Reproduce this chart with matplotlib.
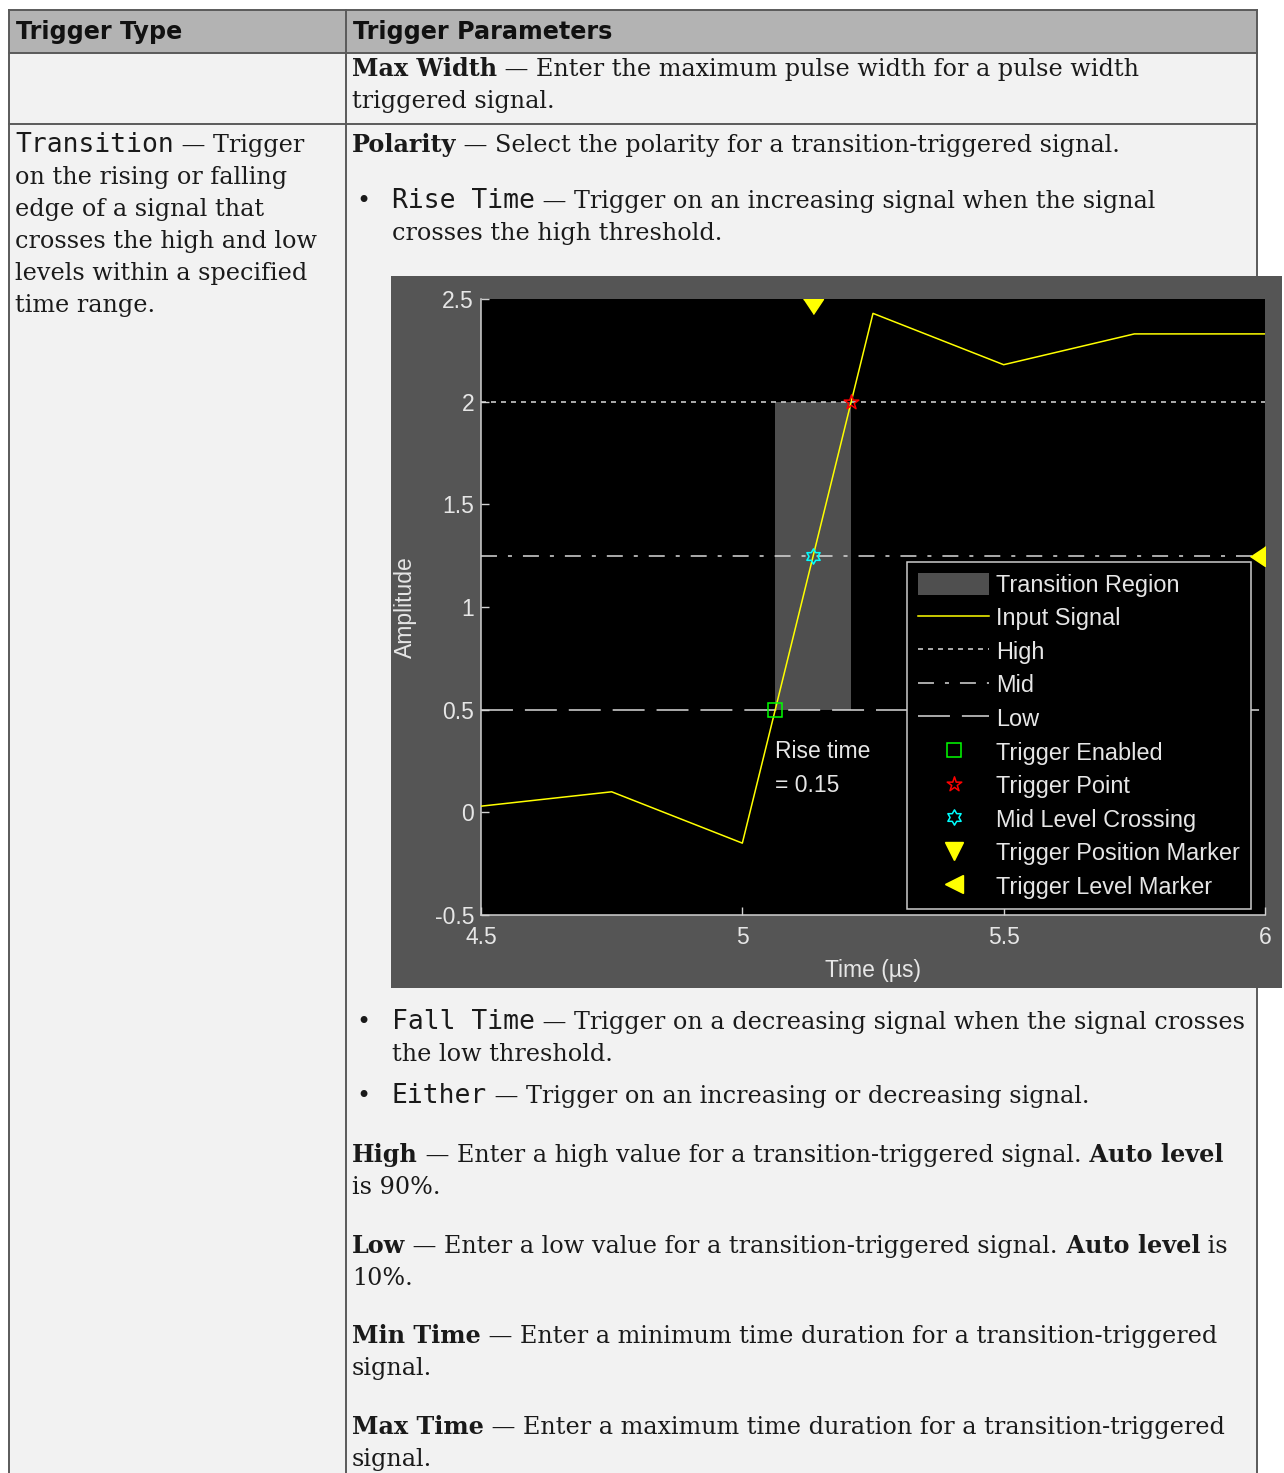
import matplotlib
matplotlib.use("Agg")
import matplotlib.pyplot as plt
from matplotlib.lines import Line2D
from matplotlib.patches import Rectangle
from matplotlib.path import Path

plt.rcParams['lines.scale_dashes'] = False

# ---------------- data ----------------
time_us = [4.5, 4.75, 5.0, 5.25, 5.5, 5.75, 6.0]
amplitude = [0.03, 0.10, -0.15, 2.43, 2.18, 2.33, 2.33]

high_level = 2.0
mid_level = 1.25
low_level = 0.5

trigger_enabled = (5.063, 0.5)
trigger_point = (5.208, 2.0)
mid_crossing = (5.136, 1.25)
trigger_position = (5.136, 2.5)
trigger_level = (6.0, 1.25)
rise_time_note = "Rise time\n= 0.15"

x_ticks = [4.5, 5, 5.5, 6]
x_ticklabels = ["4.5", "5", "5.5", "6"]
y_ticks = [-0.5, 0, 0.5, 1, 1.5, 2, 2.5]
y_ticklabels = ["-0.5", "0", "0.5", "1", "1.5", "2", "2.5"]

legend_labels = ["Transition Region", "Input Signal", "High", "Mid", "Low",
                 "Trigger Enabled", "Trigger Point", "Mid Level Crossing",
                 "Trigger Position Marker", "Trigger Level Marker"]

header_cells = ["Trigger Type", "Trigger Parameters"]

max_width_lines = [
    [("Max Width", "bold"), (" — Enter the maximum pulse width for a pulse width", "serif")],
    [("triggered signal.", "serif")],
]
transition_lines = [
    [("Transition", "mono"), (" — Trigger", "serif")],
    [("on the rising or falling", "serif")],
    [("edge of a signal that", "serif")],
    [("crosses the high and low", "serif")],
    [("levels within a specified", "serif")],
    [("time range.", "serif")],
]
polarity_lines = [
    [("Polarity", "bold"), (" — Select the polarity for a transition-triggered signal.", "serif")],
]
rise_lines = [
    [("Rise Time", "mono"), (" — Trigger on an increasing signal when the signal", "serif")],
    [("crosses the high threshold.", "serif")],
]
fall_lines = [
    [("Fall Time", "mono"), (" — Trigger on a decreasing signal when the signal crosses", "serif")],
    [("the low threshold.", "serif")],
]
either_lines = [
    [("Either", "mono"), (" — Trigger on an increasing or decreasing signal.", "serif")],
]
high_lines = [
    [("High", "bold"), (" — Enter a high value for a transition-triggered signal.", "serif"),
     (" Auto level", "bold")],
    [("is 90%.", "serif")],
]
low_lines = [
    [("Low", "bold"), (" — Enter a low value for a transition-triggered signal.", "serif"),
     (" Auto level", "bold"), (" is", "serif")],
    [("10%.", "serif")],
]
min_time_lines = [
    [("Min Time", "bold"), (" — Enter a minimum time duration for a transition-triggered", "serif")],
    [("signal.", "serif")],
]
max_time_lines = [
    [("Max Time", "bold"), (" — Enter a maximum time duration for a transition-triggered", "serif")],
    [("signal.", "serif")],
]

# ---------------- styles ----------------
W, H = 1284, 1473
STYLE = {
    "serif": dict(family=["DejaVu Serif", "DejaVu Sans"], size=17.2),
    "bold": dict(family=["DejaVu Serif", "DejaVu Sans"], size=17.2, weight="bold"),
    "mono": dict(family=["DejaVu Sans Mono"], size=19),
    "head": dict(family=["DejaVu Sans"], size=17.2, weight="bold"),
}
TEXT = "#1a1a1a"
CHART_TXT = "#e6e6e6"
CHART_FONT = "Liberation Sans"
CFS = 16.5
LEG_FS = 16.9
LINE_STEP = 32

fig = plt.figure(figsize=(W / 100, H / 100), dpi=100)
fig.patch.set_facecolor("white")
r = fig.canvas.get_renderer()

page = fig.add_axes([0, 0, 1, 1])
page.set_xlim(0, W)
page.set_ylim(H, 0)
page.axis("off")


def put_line(x, y, runs):
    for s, st in runs:
        t = page.text(x, y, s, ha="left", va="baseline", color=TEXT, zorder=4, **STYLE[st])
        x += t.get_window_extent(r).width


def put_block(x, y0, lines, bullet=False):
    if bullet:
        page.text(356, y0, "•", ha="left", va="baseline", color=TEXT, zorder=4, **STYLE["serif"])
    for i, runs in enumerate(lines):
        put_line(x, y0 + i * LINE_STEP, runs)


# table cells and rules
left, mid_x, right = 9, 346, 1257
page.add_patch(Rectangle((left, 10), right - left, 43, fc="#b3b3b3", ec="none", zorder=1))
page.add_patch(Rectangle((left, 53), right - left, H - 53, fc="#f2f2f2", ec="none", zorder=1))
rule = dict(color="#5a5a5a", lw=1.4, zorder=2)
for xx in (left, mid_x, right):
    page.plot([xx, xx], [10, H], **rule)
for yy in (10, 53, 124):
    page.plot([left, right], [yy, yy], **rule)

page.text(16, 39, header_cells[0], ha="left", va="baseline", color="#111111", **STYLE["head"])
page.text(353, 39, header_cells[1], ha="left", va="baseline", color="#111111", **STYLE["head"])

put_block(352, 76, max_width_lines)
put_block(15, 152, transition_lines)
put_block(352, 152, polarity_lines)
put_block(392, 208, rise_lines, bullet=True)
put_block(392, 1029, fall_lines, bullet=True)
put_block(392, 1103, either_lines, bullet=True)
put_block(352, 1162, high_lines)
put_block(352, 1253, low_lines)
put_block(352, 1343, min_time_lines)
put_block(352, 1434, max_time_lines)

# grey figure panel behind the scope axes
page.add_patch(Rectangle((391, 276), 891, 712, fc="#555555", ec="none", zorder=5))

# ---------------- the scope chart ----------------
ax = fig.add_axes([481 / W, 1 - 915 / H, 784 / W, 616 / H])
ax.set_zorder(3)
ax.set_facecolor("black")
ax.set_xlim(4.5, 6)
ax.set_ylim(-0.5, 2.5)

region = ax.fill_between([trigger_enabled[0], trigger_point[0]], low_level, high_level,
                         color="#4f4f4f", lw=0, zorder=1)
thr = dict(color="#d9d9d9", lw=1.1, zorder=2)
high_ln = ax.axhline(high_level, ls=(0, (3.6, 3.6)), **thr)
mid_ln = ax.axhline(mid_level, ls=(0, (11.5, 7.9, 2.9, 7.9)), **thr)
low_ln = ax.axhline(low_level, ls=(0, (23, 8.6)), **thr)
sig_ln, = ax.plot(time_us, amplitude, color="#ffff00", lw=1.1, zorder=3)

en_mk, = ax.plot(*trigger_enabled, ls="none", marker="s", ms=10.5, mfc="none",
                 mec="#00ff00", mew=1.1, zorder=5)
pentagram = Path.unit_regular_star(5, 0.382)
hexagram = Path.unit_regular_star(6, 0.577)
pt_mk, = ax.plot(*trigger_point, ls="none", marker=pentagram, ms=11, mfc="none",
                 mec="#ff0000", mew=1.1, zorder=5)
mid_mk, = ax.plot(*mid_crossing, ls="none", marker=hexagram, ms=11, mfc="none",
                  mec="#00ffff", mew=1.1, zorder=5)

# scope markers sit flat against the axes edge
tri_down = [(-1, 0), (1, 0), (0, -1.5)]
tri_left = [(0, 1), (0, -1), (-1.5, 0)]
ax.plot(*trigger_position, ls="none", marker=tri_down, ms=21.6, color="#ffff00", zorder=6)
ax.plot(*trigger_level, ls="none", marker=tri_left, ms=21.6, color="#ffff00", zorder=6)
pos_proxy = Line2D([], [], ls="none", marker="v", ms=13, color="#ffff00")
lvl_proxy = Line2D([], [], ls="none", marker="<", ms=13, color="#ffff00")

ax.text(trigger_enabled[0], 0.35, rise_time_note, ha="left", va="top", color=CHART_TXT,
        family=CHART_FONT, fontsize=CFS, linespacing=1.6, zorder=6)

ax.set_xticks(x_ticks, x_ticklabels)
ax.set_yticks(y_ticks, y_ticklabels)
ax.tick_params(axis="both", direction="in", length=5.8, width=1.0, color="#d0d0d0",
               labelcolor=CHART_TXT, labelsize=CFS)
ax.tick_params(axis="y", pad=5)
ax.tick_params(axis="x", pad=8)
for lab in ax.get_xticklabels() + ax.get_yticklabels():
    lab.set_family(CHART_FONT)
for side in ("top", "right"):
    ax.spines[side].set_visible(False)
for side in ("left", "bottom"):
    ax.spines[side].set_color("#d0d0d0")
    ax.spines[side].set_linewidth(1.1)

ax.set_ylabel("Amplitude", color=CHART_TXT, family=CHART_FONT, fontsize=CFS)
ax.yaxis.set_label_coords(-0.082, 0.5)
ax.set_xlabel("Time (µs)", color=CHART_TXT, family=CHART_FONT, fontsize=CFS)
ax.xaxis.set_label_coords(0.5, -0.071)

handles = [region, sig_ln, high_ln, mid_ln, low_ln, en_mk, pt_mk, mid_mk, pos_proxy, lvl_proxy]
leg = ax.legend(handles, legend_labels, loc="upper left", bbox_to_anchor=(0.5434, 0.573),
                borderaxespad=0, prop={"family": CHART_FONT, "size": LEG_FS},
                facecolor="black", edgecolor="#cccccc", framealpha=1, fancybox=False,
                handlelength=3.06, handleheight=1.06, handletextpad=0.3,
                labelspacing=0.41, borderpad=0.45, labelcolor=CHART_TXT)
leg.get_frame().set_linewidth(1.1)
leg.set_zorder(10)

fig.savefig("out.png", dpi=100)
